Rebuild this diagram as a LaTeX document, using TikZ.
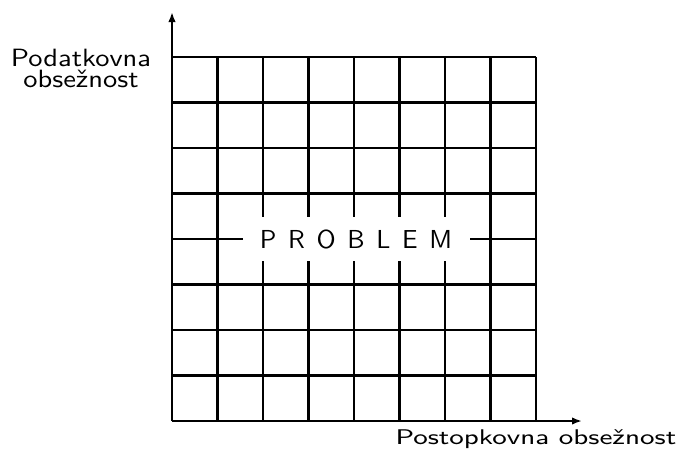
\documentclass[tikz,border=0pt]{standalone}
\usepackage{graphicx}
\usetikzlibrary{arrows.meta}
\begin{document}
\begin{tikzpicture}[x=0.4pt,y=-0.4pt,
  gridline/.style={line width=1pt,black},
  axis/.style={line width=1pt,-{Latex[length=4pt,width=3pt]}},
  lbl/.style={font=\sffamily\fontsize{10}{8.2}\selectfont,inner sep=0pt},
  blbl/.style={font=\sffamily\fontsize{8.5}{10}\selectfont,inner sep=0pt}]
\useasboundingbox (0,0) rectangle (677,453);
\coordinate (O) at (172,421);
\coordinate (ytip) at (172,12);
\coordinate (xtip) at (582,421);
\foreach \i in {0,...,8}{
  \draw[gridline] ({172+\i*45.5},57) -- ({172+\i*45.5},421);
  \draw[gridline] (172,{57+\i*45.5}) -- (536,{57+\i*45.5});
}
\draw[axis] (O) -- (ytip);
\draw[axis] (O) -- (xtip);
\node[fill=white,minimum width=227*0.4pt,minimum height=44*0.4pt,inner sep=0pt,
  font=\sffamily\fontsize{10.4}{12}\selectfont] (prob) at (356,239)
  {P\hspace{0.45em}R\hspace{0.45em}O\hspace{0.45em}B\hspace{0.45em}L\hspace{0.45em}E\hspace{0.45em}M};
\node[lbl,align=center,anchor=base] (ylab) at (81,87)
  {\scalebox{1.14}[1]{Podatkovna}\\\scalebox{1.14}[1]{obse\v{z}nost}};
\node[blbl,anchor=base west] (xlab) at (395,444)
  {\scalebox{1.33}[1]{Postopkovna obse\v{z}nost}};
\end{tikzpicture}
\end{document}
